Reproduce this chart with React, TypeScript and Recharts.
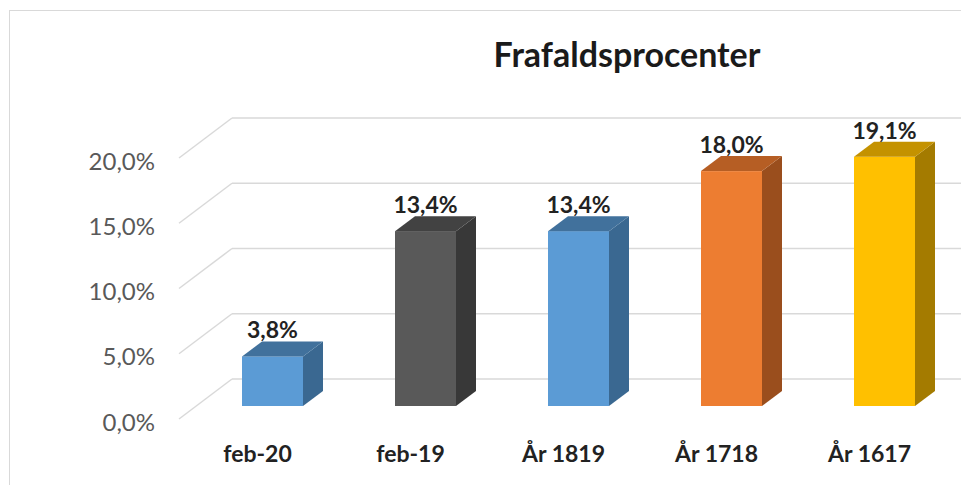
import { BarChart, Bar, XAxis, YAxis, CartesianGrid, LabelList, Cell } from "recharts";

const categories = ["feb-20", "feb-19", "År 1819", "År 1718", "År 1617"];
const dropoutRates = [3.8, 13.4, 13.4, 18.0, 19.1];
const yTicks = [0, 5, 10, 15, 20];

const FRONT = ["#5B9BD5", "#595959", "#5B9BD5", "#ED7D31", "#FFC000"];
const SIDE = ["#3A6891", "#383838", "#3A6891", "#9A4E1D", "#A47B00"];
const TOP = ["#41719C", "#424242", "#41719C", "#B65E24", "#C49200"];

const FONT = "Lato, 'Open Sans', sans-serif";
const DEPTH_X = 20;
const DEPTH_Y = 15;

const data = categories.map((name, i) => ({ name, value: dropoutRates[i] }));

const fmt = (v: number) => v.toFixed(1).replace(".", ",") + "%";

function Box3D(props: any) {
  const { x, y, width, height, index } = props;
  const r = x + width;
  const b = y + height;
  return (
    <g>
      <rect x={x} y={y} width={width} height={height} fill={FRONT[index]} />
      <polygon
        points={`${r},${y} ${r + DEPTH_X},${y - DEPTH_Y} ${r + DEPTH_X},${b - DEPTH_Y} ${r},${b}`}
        fill={SIDE[index]}
      />
      <polygon
        points={`${x},${y} ${x + DEPTH_X},${y - DEPTH_Y} ${r + DEPTH_X},${y - DEPTH_Y} ${r},${y}`}
        fill={TOP[index]}
      />
    </g>
  );
}

function GridLine(props: any) {
  const { y1, x2 } = props;
  const back = y1 - 27;
  return (
    <g key={props.key}>
      <line x1={232} y1={back} x2={x2 + 10} y2={back} stroke="#D9D9D9" strokeWidth={1.5} />
      <line x1={179} y1={y1 + 13} x2={232} y2={back} stroke="#D9D9D9" strokeWidth={1.5} />
    </g>
  );
}

export default function App() {
  return (
    <div
      style={{
        position: "absolute",
        left: 0,
        top: 0,
        width: 961,
        height: 485,
        overflow: "hidden",
        background: "#fff",
      }}
    >
      <div
        style={{
          position: "absolute",
          left: 9,
          top: 10,
          width: 1000,
          height: 500,
          border: "1.5px solid #D9D9D9",
        }}
      />
      <div
        style={{
          position: "absolute",
          left: 0,
          width: 961,
          top: 33,
          textAlign: "center",
          paddingLeft: 293,
          boxSizing: "border-box",
          fontFamily: FONT,
          fontWeight: 700,
          fontSize: 34,
          color: "#1A1A1A",
        }}
      >
        Frafaldsprocenter
      </div>
      <div style={{ position: "absolute", left: 0, top: 0 }}>
        <BarChart
          width={961}
          height={485}
          data={data}
          margin={{ top: 145, right: 0, bottom: 39, left: 0 }}
          barSize={61}
        >
          <CartesianGrid vertical={false} horizontal={(p: any) => <GridLine {...p} />} />
          <XAxis
            dataKey="name"
            height={40}
            axisLine={false}
            tickLine={false}
            interval={0}
            tick={(p: any) => (
              <text
                x={p.x - 15}
                y={453}
                textAnchor="middle"
                dominantBaseline="central"
                fontFamily={FONT}
                fontWeight={700}
                fontSize={23}
                fill="#222"
              >
                {p.payload.value}
              </text>
            )}
          />
          <YAxis
            width={196}
            domain={[0, 20]}
            ticks={yTicks}
            axisLine={false}
            tickLine={false}
            tick={(p: any) => (
              <text
                x={155}
                y={p.y + 15}
                textAnchor="end"
                dominantBaseline="central"
                fontFamily={FONT}
                fontSize={24}
                fill="#595959"
              >
                {fmt(p.payload.value)}
              </text>
            )}
          />
          <Bar dataKey="value" shape={<Box3D />} isAnimationActive={false}>
            {data.map((_, i) => (
              <Cell key={i} fill={FRONT[i]} />
            ))}
            <LabelList
              dataKey="value"
              content={(p: any) => (
                <text
                  x={p.x + p.width / 2}
                  y={p.y - 27}
                  textAnchor="middle"
                  dominantBaseline="central"
                  fontFamily={FONT}
                  fontWeight={700}
                  fontSize={23}
                  fill="#222"
                >
                  {fmt(p.value)}
                </text>
              )}
            />
          </Bar>
        </BarChart>
      </div>
    </div>
  );
}
